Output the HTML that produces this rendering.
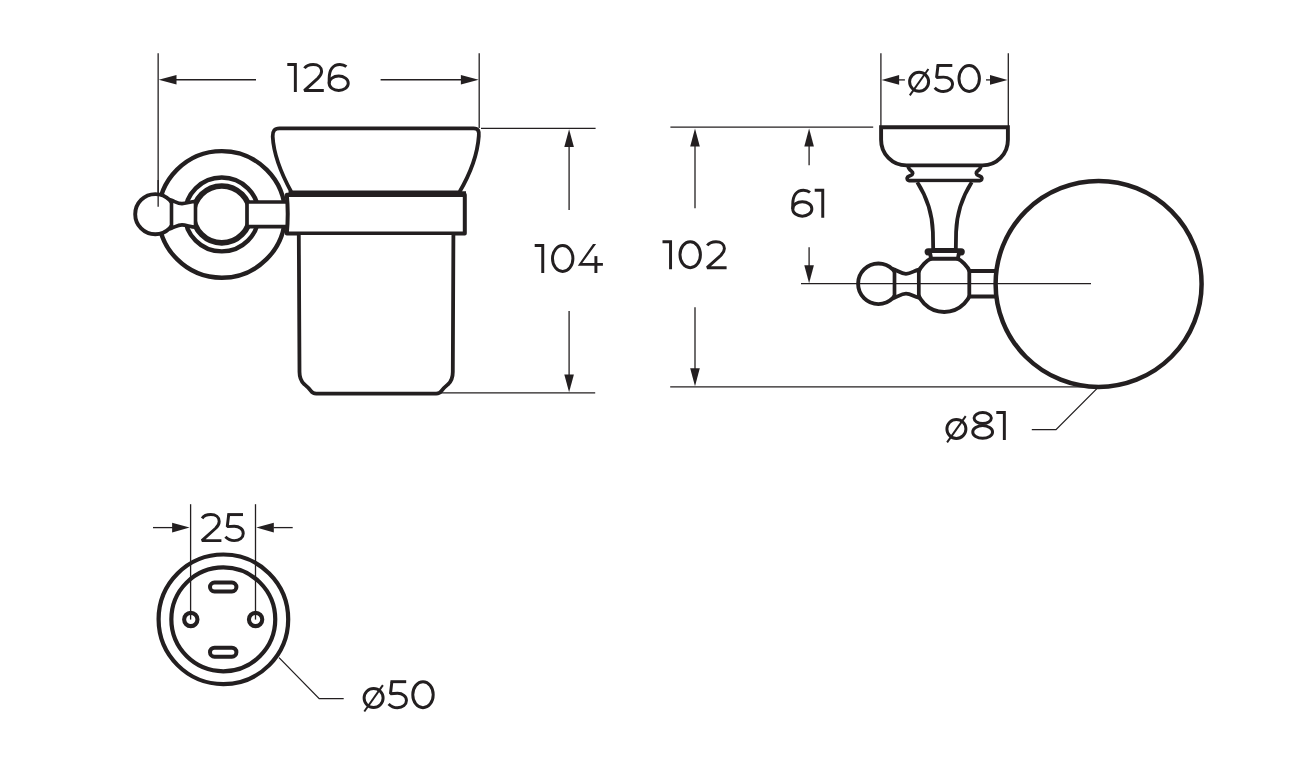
<!DOCTYPE html>
<html><head><meta charset="utf-8"><title>Drawing</title>
<style>
html,body{margin:0;padding:0;background:#fff;}
body{width:1300px;height:780px;overflow:hidden;font-family:"Liberation Sans",sans-serif;}
svg{display:block;}
.w{fill:#fff;}
.fl{fill:#231f20;stroke:none;}
.ah{fill:#231f20;stroke:none;}
.gl *{fill:none;stroke-width:2.95;stroke-linecap:butt;}
.gl .sl{stroke-width:2;}
.gl .gf{fill:#231f20;stroke:none;}
line{stroke-linecap:butt;}
</style></head>
<body>
<svg width="1300" height="780" viewBox="0 0 1300 780" fill="none" stroke="#231f20">
<line x1="158.15" y1="53.2" x2="158.15" y2="206.7" stroke-width="1.3"/>
<line x1="479.2" y1="53.2" x2="479.2" y2="128" stroke-width="1.3"/>
<line x1="176" y1="79.75" x2="256" y2="79.75" stroke-width="1.3"/>
<line x1="380.6" y1="79.75" x2="462" y2="79.75" stroke-width="1.3"/>
<polygon class="ah" points="158.7,79.75 176.5,74.95 176.5,84.55"/>
<polygon class="ah" points="478.7,79.75 460.9,74.95 460.9,84.55"/>
<g class="gl"><path d="M287.3 64.47 H295.35 V92" stroke-linejoin="miter"/><path d="M304.5 68.3 C306.2 65.7 309.4 64.47 313.2 64.47 C318.2 64.47 321.6 67.2 321.6 71.3 C321.6 74 320.2 76.2 317.8 78.4 L304.3 90.53 H323.8" stroke-linejoin="bevel"/><ellipse cx="338.7" cy="83.2" rx="9.55" ry="7.25"/><path d="M346.4 66.7 C344.6 65.2 342.3 64.47 339.9 64.47 C333.1 64.47 329.18 69.8 329.18 78.6 L329.18 83.4"/></g>
<line x1="481" y1="128.4" x2="595.6" y2="128.4" stroke-width="1.3"/>
<line x1="440" y1="392.9" x2="595.2" y2="392.9" stroke-width="1.3"/>
<line x1="569.1" y1="146" x2="569.1" y2="209.9" stroke-width="1.3"/>
<line x1="569.1" y1="311" x2="569.1" y2="375" stroke-width="1.3"/>
<polygon class="ah" points="569.1,129.2 564.3,147 573.9,147"/>
<polygon class="ah" points="569.1,392.3 564.3,374.5 573.9,374.5"/>
<g class="gl"><path d="M534.7 245.47 H542.75 V273" stroke-linejoin="miter"/><ellipse cx="562.7" cy="258.5" rx="10.22" ry="13.03"/><polygon class="gf" points="593,244 596.1,244 582.3,262.9 602.9,262.9 602.9,265.75 577.8,265.75"/><path d="M595.9 256.1 V273"/></g>
<circle class="w" cx="221.8" cy="214.4" r="63.3" stroke-width="4.4"/>
<circle class="w" cx="221.8" cy="214.45" r="36.95" stroke-width="4.4"/>
<circle class="w" cx="221.8" cy="214.45" r="28.45" stroke-width="5.7"/>
<path class="w" d="M288 202 H247 V226.7 H288" stroke-width="3.7"/>
<circle class="w" cx="155.3" cy="214.2" r="20.1" stroke-width="3.9"/>
<path class="w" d="M171.5 200.3 C175 201.5 178 203.6 182 203.6 C186 203.6 190 201.8 195.5 201.3 V227.3 C190 226.8 186 224.9 182 224.9 C178 224.9 175 227 171.5 228.2 Z" stroke-width="3.6"/>
<line x1="158.15" y1="180" x2="158.15" y2="206.7" stroke-width="1.3"/>
<path class="w" d="M291.6 192.5 C282 175 273.6 155 272.7 136.5 C272.5 131 274.5 128.4 279.5 128.4 H473.5 C478.5 128.4 479.3 131.5 478.8 136 C477.5 155 469.5 175 459.2 192.5 Z" stroke-width="3.8"/>
<path class="w" d="M286.8 194.8 H464.8 V233.5 H286.8 C288 221 288 207 286.8 194.8 Z" stroke-width="4" stroke-linejoin="round"/>
<line x1="288.5" y1="194.1" x2="466" y2="194.1" stroke-width="5.8"/>
<path class="w" d="M298.8 235 L299.5 372 C299.5 378 301 381 304 384 C307 386.5 309.2 388.2 311 391 C312.2 392.9 313.6 393.6 316.2 393.6 H436.2 C438.8 393.6 440.2 392.9 441.4 391 C443.2 388.2 445.4 386.5 448.4 384 C451.4 381 452.8 378 452.8 372 L453.4 235" stroke-width="3.8"/>
<line x1="880.9" y1="53.3" x2="880.9" y2="127" stroke-width="1.3"/>
<line x1="1008.3" y1="53.3" x2="1008.3" y2="127" stroke-width="1.3"/>
<line x1="898" y1="79.9" x2="904.9" y2="79.9" stroke-width="1.3"/>
<line x1="986" y1="79.9" x2="991" y2="79.9" stroke-width="1.3"/>
<polygon class="ah" points="881.6,79.9 899.1,75.1 899.1,84.7"/>
<polygon class="ah" points="1007.5,79.9 990,75.1 990,84.7"/>
<g class="gl"><circle cx="919.1" cy="81.8" r="9.5"/><line class="sl" x1="909.8" y1="95.3" x2="928.4" y2="69"/><path d="M936.6 65.47 H952.3"/><path d="M938 65.47 L936.55 77.5 C938.7 77.2 941.1 77.1 943.6 77.1 C948.7 77.1 952.55 80.2 952.55 84.3 C952.55 88.4 948.7 91.53 943.6 91.53 C940 91.53 936.8 89.9 934.7 87.7" stroke-linejoin="bevel"/><ellipse cx="969.2" cy="78.5" rx="10.22" ry="13.03"/></g>
<line x1="670.4" y1="127.2" x2="873.2" y2="127.2" stroke-width="1.3"/>
<line x1="695" y1="146" x2="695" y2="208.3" stroke-width="1.3"/>
<line x1="695" y1="307.2" x2="695" y2="369" stroke-width="1.3"/>
<polygon class="ah" points="695,128.6 690.2,146.6 699.8,146.6"/>
<polygon class="ah" points="695,386.2 690.2,368.2 699.8,368.2"/>
<g class="gl"><path d="M662.5 241.67 H670.55 V269.2" stroke-linejoin="miter"/><ellipse cx="690.2" cy="254.7" rx="10.22" ry="13.03"/><path d="M707.3 245.5 C709 242.9 712.2 241.67 716 241.67 C721 241.67 724.4 244.4 724.4 248.5 C724.4 251.2 723 253.4 720.6 255.6 L707.1 267.72 H726.6" stroke-linejoin="bevel"/></g>
<line x1="809.1" y1="146" x2="809.1" y2="165.3" stroke-width="1.3"/>
<line x1="809.1" y1="247.3" x2="809.1" y2="266" stroke-width="1.3"/>
<polygon class="ah" points="809.1,128.6 804.3,146.6 813.9,146.6"/>
<polygon class="ah" points="809.1,283.2 804.3,265.2 813.9,265.2"/>
<g class="gl"><ellipse cx="802.3" cy="208.9" rx="9.55" ry="7.25"/><path d="M810 192.4 C808.2 190.9 805.9 190.17 803.5 190.17 C796.7 190.17 792.77 195.5 792.77 204.3 L792.77 209.1"/><path d="M814.7 190.17 H822.75 V217.7" stroke-linejoin="miter"/></g>
<line x1="670.2" y1="386.9" x2="1097" y2="386.9" stroke-width="1.3"/>
<path class="w" d="M908.2 165.5 C908.2 168.6 910 170 911.3 170.9 C913.4 172.3 913.2 174.6 910.6 175.4 C907.9 176.2 906.6 177.6 907.4 179.4 C907.9 180.5 909.2 180.7 911 180.7 H978 C979.8 180.7 981.1 180.5 981.6 179.4 C982.4 177.6 981.1 176.2 978.4 175.4 C975.8 174.6 975.6 172.3 977.7 170.9 C979 170 980.8 168.6 980.8 165.5" stroke-width="3.7"/>
<path class="w" d="M881.1 127.2 V139.7 A25.4 25.4 0 0 0 906.5 165.4 H982.5 A25.4 25.4 0 0 0 1007.9 139.7 V127.2 Z" stroke-width="3.9"/>
<path class="w" d="M917.3 182.2 C925.5 195 932.3 213 932.9 232 L933.2 250 H955.8 L956.1 232 C956.7 213 963.5 195 971.7 182.2" stroke-width="3.8"/>
<circle class="w" cx="944.2" cy="283.6" r="28.3" stroke-width="4"/>
<rect class="fl" x="924.6" y="248.2" width="40.2" height="7.3" rx="3.65"/>
<path class="w" d="M929.7 251 H959.3 L957.9 258.7 H931.1 Z" stroke-width="3.9"/>
<path class="w" d="M997 271 H969.3 V296.5 H997" stroke-width="3.8"/>
<circle class="w" cx="878.4" cy="283.8" r="20.3" stroke-width="3.9"/>
<path class="w" d="M894.5 269.6 C898 270.8 901.5 273.8 906 273.8 C910.5 273.8 914 270.8 918.8 269.6 V297.8 C914 296.6 910.5 293.6 906 293.6 C901.5 293.6 898 296.6 894.5 297.8 Z" stroke-width="3.7"/>
<circle cx="1098.6" cy="283.9" r="103" fill="none" stroke-width="4.5"/>
<line x1="801" y1="283.7" x2="1091" y2="283.7" stroke-width="1.3"/>
<path d="M1096.9 388.6 L1056 429.6 H1031.8" fill="none" stroke-width="1.3"/>
<g class="gl"><circle cx="956.4" cy="428.9" r="9.5"/><line class="sl" x1="947.1" y1="442.4" x2="965.7" y2="416.1"/><ellipse cx="982.7" cy="418.05" rx="8.65" ry="5.5"/><ellipse cx="982.65" cy="431.95" rx="9.9" ry="6.35"/><path d="M996.3 412.58 H1004.35 V440.1" stroke-linejoin="miter"/></g>
<circle cx="223.4" cy="619.3" r="64.8" fill="none" stroke-width="4.2"/>
<circle cx="223.3" cy="619.35" r="51.95" fill="none" stroke-width="4.2"/>
<circle cx="190.8" cy="619.5" r="6.65" fill="none" stroke-width="4.1"/>
<circle cx="255.6" cy="619.5" r="6.65" fill="none" stroke-width="4.1"/>
<rect x="210" y="582.5" width="26.4" height="9" rx="4.5" fill="none" stroke-width="4"/>
<rect x="210" y="647.7" width="26.4" height="9" rx="4.5" fill="none" stroke-width="4"/>
<line x1="190.6" y1="504.2" x2="190.6" y2="619.6" stroke-width="1.3"/>
<line x1="255.5" y1="504.2" x2="255.5" y2="619.6" stroke-width="1.3"/>
<line x1="153" y1="527.6" x2="173" y2="527.6" stroke-width="1.3"/>
<line x1="273.5" y1="527.6" x2="292.7" y2="527.6" stroke-width="1.3"/>
<polygon class="ah" points="189.6,527.6 172.1,522.8 172.1,532.4"/>
<polygon class="ah" points="256.3,527.6 273.8,522.8 273.8,532.4"/>
<g class="gl"><path d="M202.1 518.4 C203.8 515.8 207 514.58 210.8 514.58 C215.8 514.58 219.2 517.3 219.2 521.4 C219.2 524.1 217.8 526.3 215.4 528.5 L201.9 540.62 H221.4" stroke-linejoin="bevel"/><path d="M227.3 514.58 H243"/><path d="M228.7 514.58 L227.25 526.6 C229.4 526.3 231.8 526.2 234.3 526.2 C239.4 526.2 243.25 529.3 243.25 533.4 C243.25 537.5 239.4 540.62 234.3 540.62 C230.7 540.62 227.5 539 225.4 536.8" stroke-linejoin="bevel"/></g>
<path d="M279 657.6 L319.2 698.7 H343.7" fill="none" stroke-width="1.3"/>
<g class="gl"><circle cx="373.6" cy="698" r="9.5"/><line class="sl" x1="364.3" y1="711.5" x2="382.9" y2="685.2"/><path d="M390.5 681.68 H406.2"/><path d="M391.9 681.68 L390.45 693.7 C392.6 693.4 395 693.3 397.5 693.3 C402.6 693.3 406.45 696.4 406.45 700.5 C406.45 704.6 402.6 707.73 397.5 707.73 C393.9 707.73 390.7 706.1 388.6 703.9" stroke-linejoin="bevel"/><ellipse cx="423" cy="694.7" rx="10.22" ry="13.03"/></g>
</svg>
</body></html>
